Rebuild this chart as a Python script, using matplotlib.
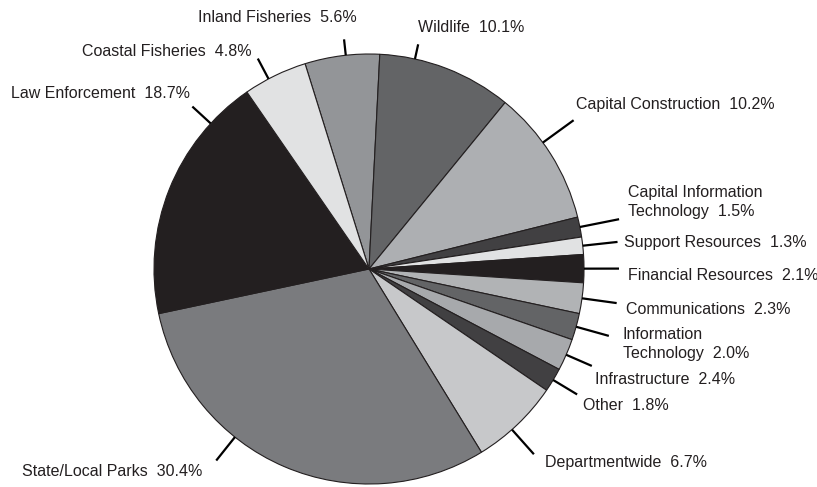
import numpy as np
import matplotlib.pyplot as plt

# budget share by program, clockwise from the top
programs = ['Inland Fisheries', 'Wildlife', 'Capital Construction',
            'Capital Information\nTechnology', 'Support Resources',
            'Financial Resources', 'Communications', 'Information\nTechnology',
            'Infrastructure', 'Other', 'Departmentwide', 'State/Local Parks',
            'Law Enforcement', 'Coastal Fisheries']
shares = [5.6, 10.1, 10.2, 1.5, 1.3, 2.1, 2.3, 2.0, 2.4, 1.8, 6.7, 30.4, 18.7, 4.8]

colors = ['#939598', '#636466', '#adafb2', '#414042', '#e1e2e3', '#231f20',
          '#b1b3b5', '#636466', '#a7a9ac', '#414042', '#c7c8ca', '#7a7b7e',
          '#231f20', '#e1e2e3']

# layout (pixel coords): where the leader sits inside each slice (0..1),
# its length, and the label anchor
leader_pos = [0.55, 0.26, 0.40, 0.5, 0.5, 0.5, 0.5, 0.5, 0.5, 0.5, 0.58, 0.64,
              0.81, 0.39]
leader_len = [16, 15, 38, 40, 35, 35, 35, 34, 28, 28, 33, 30, 25, 23]
label_xy = [(357, 18), (418, 28), (576, 105), (628, 202), (624, 243),
            (628, 275), (626, 309), (623, 344), (595, 380), (583, 406),
            (545, 463), (202, 472), (190, 94), (252, 51)]
label_ha = ['right', 'left', 'left', 'left', 'left', 'left', 'left', 'left',
            'left', 'left', 'left', 'right', 'right', 'right']

plt.rcParams['font.family'] = ['Liberation Sans', 'DejaVu Sans']

fig = plt.figure(figsize=(8.17, 4.87), dpi=100)
ax = fig.add_axes([0, 0, 1, 1])

cx, cy, R = 369, 269, 215
# y axis runs downward, so counterclock=True draws clockwise on screen
wedges, _ = ax.pie(shares, colors=colors, startangle=-107.3, counterclock=True,
                   center=(cx, cy), radius=R,
                   wedgeprops=dict(edgecolor='#231f20', linewidth=0.8))

for w, name, val, f, L, (tx, ty), ha in zip(wedges, programs, shares,
                                            leader_pos, leader_len,
                                            label_xy, label_ha):
    ang = np.deg2rad(w.theta1 + f * (w.theta2 - w.theta1))
    x0, y0 = cx + R * np.cos(ang), cy + R * np.sin(ang)
    x1, y1 = cx + (R + L) * np.cos(ang), cy + (R + L) * np.sin(ang)
    ax.plot([x0, x1], [y0, y1], color='black', linewidth=1.6,
            solid_capstyle='butt')
    ax.text(tx, ty, f'{name}  {val:.1f}%', ha=ha, va='center',
            fontsize=11.5, color='#231f20', linespacing=1.35)

ax.set_xlim(0, 817)
ax.set_ylim(487, 0)
ax.set_aspect('equal')
ax.axis('off')

fig.savefig('out.png', dpi=100)
